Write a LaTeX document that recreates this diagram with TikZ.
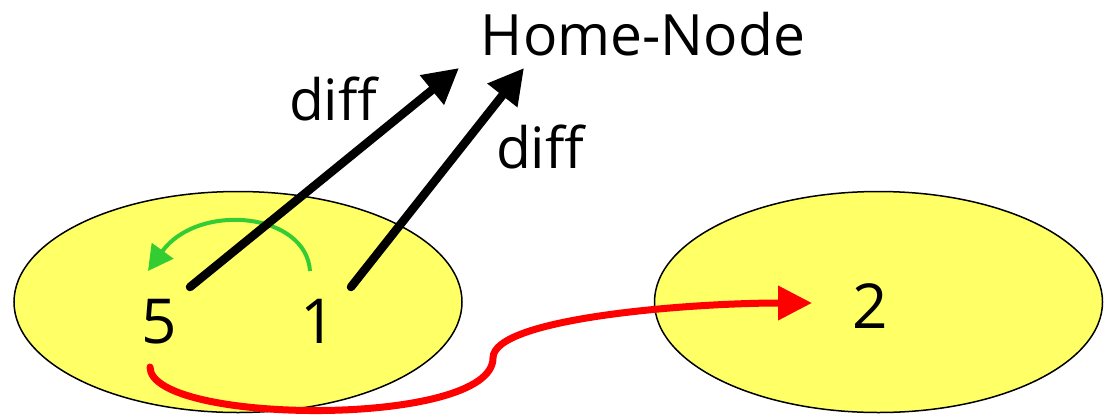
\documentclass[tikz,border=0pt]{standalone}
\usepackage{fontspec}
\setmainfont{Open Sans}
\usetikzlibrary{arrows.meta,shapes.geometric}
\definecolor{blobyellow}{RGB}{255,255,102}
\definecolor{loopgreen}{RGB}{51,204,51}
\begin{document}
\begin{tikzpicture}[x=1pt,y=-1pt,
  blob/.style={ellipse,draw=black,line width=1.5pt,fill=blobyellow,minimum width=448pt,minimum height=221pt,inner sep=0pt},
  lbl/.style={inner sep=0pt,anchor=base,font=\fontsize{57}{68}\selectfont},
  digit/.style={inner sep=0pt,anchor=base,font=\fontsize{62}{74}\selectfont},
  diffarrow/.style={line width=8.5pt,line cap=round,-{Triangle[length=35pt,width=36pt]}},
  greenarrow/.style={draw=loopgreen,line width=4pt,-{Triangle[length=25pt,width=26pt]}},
  redarrow/.style={draw=red,line width=7pt,line cap=round,-{Triangle[length=34pt,width=33pt]}}]
\useasboundingbox (0,0) rectangle (1107,418);
\node[blob] (left) at (238,302) {};
\node[blob] (right) at (878.5,302) {};
\node[lbl] (home) at (643,55) {Home-Node};
\node[lbl] (diffa) at (333,120) {diff};
\node[lbl] (diffb) at (540,168) {diff};
\node[digit] (five) at (159,343) {5};
\node[digit] (one) at (318,343) {1};
\node[digit] (two) at (870,328) {2};
\coordinate (fiveup) at (190,287);
\coordinate (oneup) at (351,287);
\coordinate (homea) at (459,68);
\coordinate (homeb) at (524,68);
\coordinate (onegreen) at (310,271);
\coordinate (fivegreen) at (148,271);
\coordinate (fivedown) at (150,367);
\coordinate (bend) at (493,358);
\coordinate (twoin) at (812,303);
\draw[greenarrow] (onegreen) .. controls (306,212) and (198,202) .. (fivegreen);
\draw[diffarrow] (fiveup) -- (homea);
\draw[diffarrow] (oneup) -- (homeb);
\draw[redarrow] (fivedown) .. controls (150,425) and (493,428) .. (bend)
  .. controls (493,318) and (690,303) .. (twoin);
\end{tikzpicture}
\end{document}
